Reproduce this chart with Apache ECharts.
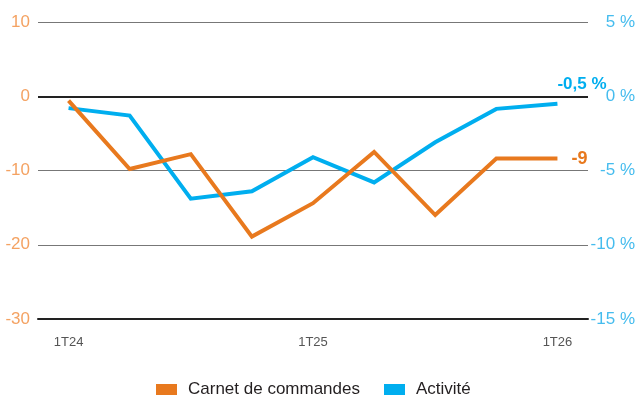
<!DOCTYPE html>
<html>
<head>
<meta charset="utf-8">
<script src="https://cdn.jsdelivr.net/npm/echarts@6/dist/echarts.min.js"></script>
<style>
  html, body { margin: 0; padding: 0; background: #fff; }
  #main { width: 639px; height: 401px; }
</style>
</head>
<body>
<div id="main"></div>
<script>
// trimestres
const categories = ['1T24', '2T24', '3T24', '4T24', '1T25', '2T25', '3T25', '4T25', '1T26'];
// solde d'opinion (axe gauche)
const carnetValues = [-0.6, -9.8, -7.8, -18.9, -14.4, -7.5, -16.0, -8.4, -8.4];
// activité en % (axe droit)
const activiteValues = [-0.8, -1.3, -6.9, -6.4, -4.1, -5.8, -3.1, -0.85, -0.5];
const carnetEndLabel = '-9';
const activiteEndLabel = '-0,5 %';

const FONT = "'Liberation Sans', Arial, sans-serif";
const ORANGE = '#E8791E';
const BLUE = '#00AEEF';

let option = {
  animation: false,
  grid: { left: 38, right: 51, top: 22, bottom: 82 },
  legend: {
    left: 156,
    top: 381,
    padding: 0,
    itemWidth: 21,
    itemHeight: 11,
    itemGap: 24,
    icon: 'rect',
    textStyle: { color: '#231F20', fontFamily: FONT, fontSize: 17, padding: [0, 0, 0, 6] },
    data: ['Carnet de commandes', 'Activité']
  },
  xAxis: {
    type: 'category',
    data: categories,
    axisLine: { show: true, onZero: false, lineStyle: { color: '#222', width: 2 } },
    axisTick: { show: false },
    axisLabel: {
      interval: 3, margin: 17,
      color: '#555', fontFamily: FONT, fontSize: 13
    },
    z: 5
  },
  yAxis: [
    {
      type: 'value', min: -30, max: 10, interval: 10,
      axisLine: { show: false }, axisTick: { show: false },
      axisLabel: {
        margin: 8, color: '#F4A262', fontFamily: FONT, fontSize: 17,
        padding: [0, 0, 12, 0]
      },
      splitLine: { lineStyle: { color: '#777', width: 1.2 } }
    },
    {
      type: 'value', min: -15, max: 5, interval: 5,
      axisLine: { show: false }, axisTick: { show: false },
      axisLabel: {
        margin: 47, align: 'right', color: '#45BCEE', fontFamily: FONT, fontSize: 17,
        padding: [0, 0, 12, 0],
        formatter: v => v + ' %'
      },
      splitLine: { show: false }
    }
  ],
  series: [
    {
      name: 'Activité',
      type: 'line',
      yAxisIndex: 1,
      data: activiteValues,
      symbol: 'none',
      color: BLUE,
      lineStyle: { width: 4, color: BLUE, join: 'miter' },
      endLabel: {
        show: true, distance: 0, offset: [0, -19],
        formatter: () => activiteEndLabel,
        color: BLUE, fontFamily: FONT, fontSize: 17, fontWeight: 'bold'
      }
    },
    {
      name: 'Carnet de commandes',
      type: 'line',
      yAxisIndex: 0,
      data: carnetValues,
      symbol: 'none',
      color: ORANGE,
      lineStyle: { width: 4, color: ORANGE, join: 'miter' },
      endLabel: {
        show: true, distance: 14,
        formatter: () => carnetEndLabel,
        color: ORANGE, fontFamily: FONT, fontSize: 18, fontWeight: 'bold'
      },
      markLine: {
        silent: true,
        symbol: 'none',
        label: { show: false },
        lineStyle: { color: '#222', width: 2, type: 'solid' },
        data: [{ yAxis: 0 }]
      },
      z: 3
    }
  ]
};

let myChart = echarts.init(document.getElementById('main'));
// 绘制图表
myChart.setOption(option);
</script>
</body>
</html>
